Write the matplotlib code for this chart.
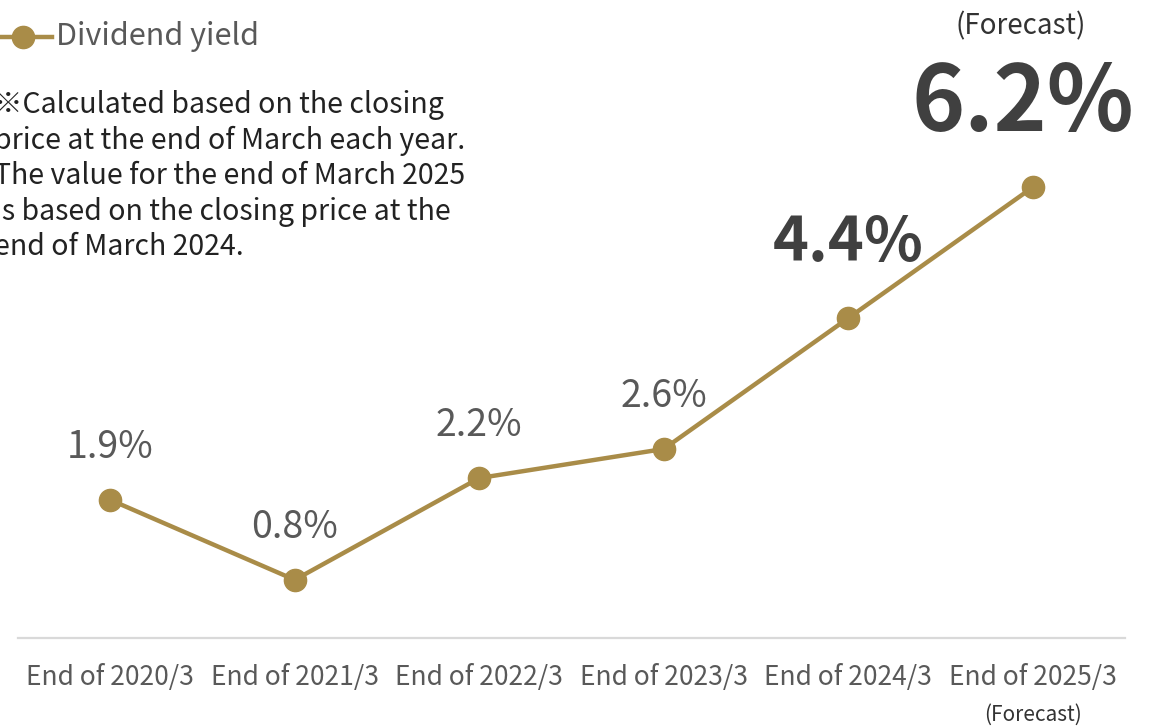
import matplotlib.pyplot as plt
from matplotlib.lines import Line2D

plt.rcParams['font.family'] = ['Noto Sans CJK JP', 'DejaVu Sans']

categories = ['End of 2020/3', 'End of 2021/3', 'End of 2022/3',
              'End of 2023/3', 'End of 2024/3', 'End of 2025/3']
dividend_yield = [1.9, 0.8, 2.2, 2.6, 4.4, 6.2]
value_labels = ['1.9%', '0.8%', '2.2%', '2.6%', '4.4%', '6.2%']
note = ('※Calculated based on the closing\n'
        'price at the end of March each year.\n'
        'The value for the end of March 2025\n'
        'is based on the closing price at the\n'
        'end of March 2024.')

gold = '#A98C48'
gray = '#595959'
dark = '#404040'

W, H = 1153, 728
fig = plt.figure(figsize=(W / 100, H / 100), dpi=100)
ax = fig.add_axes([18 / W, (H - 638) / H, (1125 - 18) / W, 638 / H])

x = list(range(len(categories)))
ax.plot(x, dividend_yield, color=gold, lw=3.2, marker='o', ms=16, zorder=3)
ax.set_xlim(-0.5, 5.5)
ax.set_ylim(0, 8.776)
ax.axhline(0, color='#d9d9d9', lw=1.6, clip_on=False, zorder=1)

for s in ax.spines.values():
    s.set_visible(False)
ax.set_yticks([])
ax.set_xticks(x)
ax.set_xticklabels(categories, fontsize=19, color=gray)
ax.tick_params(axis='x', length=0, pad=19)

# value labels
for i in range(4):
    ax.annotate(value_labels[i], (x[i], dividend_yield[i]), xytext=(0, 38),
                textcoords='offset points', ha='center', va='center',
                fontsize=27, color=gray)
ax.annotate(value_labels[4], (x[4], dividend_yield[4]), xytext=(0, 54),
            textcoords='offset points', ha='center', va='center',
            fontsize=44, fontweight='bold', color=dark)
ax.annotate(value_labels[5], (x[5], dividend_yield[5]), xytext=(-7, 60),
            textcoords='offset points', ha='center', va='center',
            fontsize=65, fontweight='bold', color=dark)
ax.annotate('(Forecast)', (x[5], dividend_yield[5]), xytext=(-9, 116),
            textcoords='offset points', ha='center', va='center',
            fontsize=20, color='#333333')
ax.annotate('(Forecast)', (x[5], 0), xytext=(0, -55),
            textcoords='offset points', ha='center', va='center',
            fontsize=15, color='#333333')

# legend
ly = 1 - 37 / H
fig.add_artist(Line2D([-6 / W, 52 / W], [ly, ly], transform=fig.transFigure,
                      color=gold, lw=3.2))
fig.add_artist(Line2D([23 / W], [ly], transform=fig.transFigure, color=gold,
                      marker='o', ms=16))
fig.text(56 / W, ly, 'Dividend yield', fontsize=22, color=gray,
         ha='left', va='center')

fig.text(-6 / W, 1 - 90 / H, note, fontsize=20.5, color='#222222',
         ha='left', va='top', linespacing=1.24)

fig.savefig('out.png', dpi=100)
